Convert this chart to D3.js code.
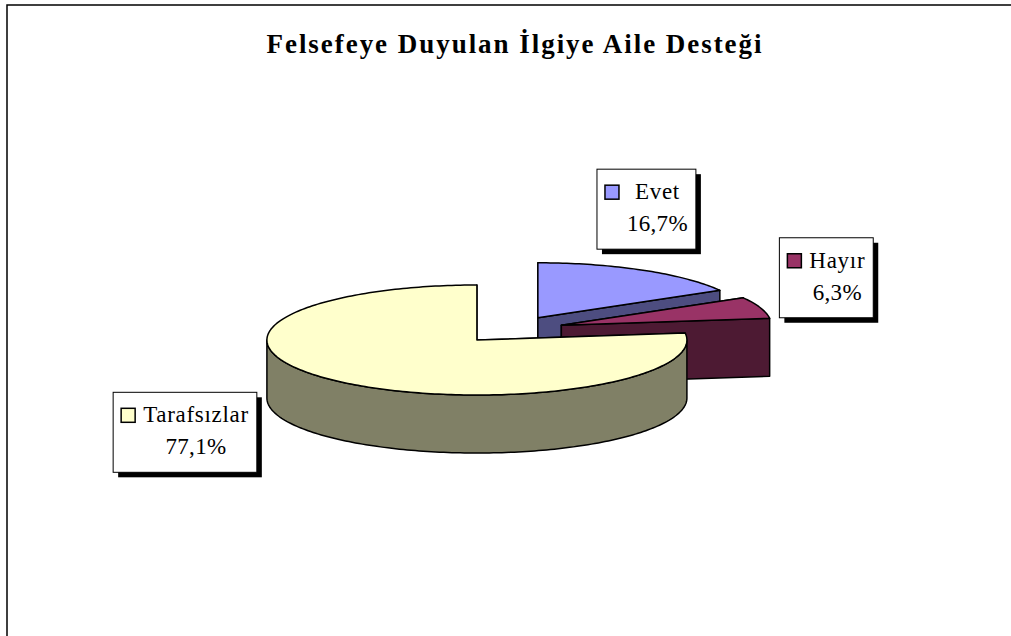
<!DOCTYPE html>
<html>
<head>
<meta charset="utf-8">
<script src="https://cdn.jsdelivr.net/npm/d3@7"></script>
<style>
  body { margin: 0; background: #fff; }
  text { font-family: "Liberation Serif", "Times New Roman", serif; }
</style>
</head>
<body>
<div id="chart"></div>
<script>
// Data
var categories = ["Evet", "Hayır", "Tarafsızlar"];
var values = [16.7, 6.3, 77.1];
var valueLabels = ["16,7%", "6,3%", "77,1%"];
var topColors = ["#9999FF", "#993366", "#FFFFCC"];
var sideColors = ["#4D4D80", "#4D1A33", "#808066"];

var title = "Felsefeye Duyulan İlgiye Aile Desteği";

// SVG container
var svgWidth = 1011;
var svgHeight = 636;

var svg = d3.select("#chart").append("svg")
  .attr("width", svgWidth)
  .attr("height", svgHeight);

// frame (only top and left edges are visible in the window)
svg.append("path")
  .attr("d", "M7,636 L7,5 L1011,5")
  .attr("fill", "none")
  .attr("stroke", "#000")
  .attr("stroke-width", 1.5);

// title
svg.append("text")
  .attr("x", 514)
  .attr("y", 53)
  .attr("text-anchor", "middle")
  .attr("font-size", 27)
  .attr("font-weight", "bold")
  .attr("textLength", 495)
  .attr("lengthAdjust", "spacing")
  .text(title);

// pie geometry (ellipse projection of a tilted disc)
var cx = 511.6, cy = 329.7;
var rx = 210, ry = 55;
var depth = 58;
var explode = 0.25;

var pie = d3.pie().sort(null).value(d => d.value);
var slices = pie(categories.map((c, i) => ({name: c, value: values[i], i: i})));

// d3.pie angles run clockwise from 12 o'clock
function proj(ox, oy, a, k, dy) {
  return [ox + k * rx * Math.sin(a), oy - k * ry * Math.cos(a) + (dy || 0)];
}
function arcPoints(ox, oy, a0, a1, dy) {
  var n = Math.max(2, Math.ceil((a1 - a0) / 0.02));
  return d3.range(n + 1).map(j => proj(ox, oy, a0 + (a1 - a0) * j / n, 1, dy));
}
var line = d3.line();

var pieGroup = svg.append("g");

slices.forEach(function(s) {
  var mid = (s.startAngle + s.endAngle) / 2;
  var apex = proj(cx, cy, mid, explode);
  var ax = apex[0], ay = apex[1];
  var i = s.data.i;
  var g = pieGroup.append("g");

  // radial faces
  [s.startAngle, s.endAngle].forEach(function(a) {
    var p = proj(ax, ay, a, 1);
    g.append("path")
      .attr("d", line([[ax, ay], p, [p[0], p[1] + depth], [ax, ay + depth]]) + "Z")
      .attr("fill", sideColors[i])
      .attr("stroke", "#000")
      .attr("stroke-width", 1.5)
      .attr("stroke-linejoin", "round");
  });

  // outer wall, front part only
  var w0 = Math.max(s.startAngle, Math.PI / 2);
  var w1 = Math.min(s.endAngle, Math.PI * 1.5);
  if (w1 > w0) {
    var topArc = arcPoints(ax, ay, w0, w1, 0);
    var botArc = arcPoints(ax, ay, w0, w1, depth).reverse();
    g.append("path")
      .attr("d", line(topArc.concat(botArc)) + "Z")
      .attr("fill", sideColors[i])
      .attr("stroke", "#000")
      .attr("stroke-width", 1.5)
      .attr("stroke-linejoin", "round");
  }

  // top face
  var pts = [[ax, ay]].concat(arcPoints(ax, ay, s.startAngle, s.endAngle, 0));
  g.append("path")
    .attr("d", line(pts) + "Z")
    .attr("fill", topColors[i])
    .attr("stroke", "#000")
    .attr("stroke-width", 1.5)
    .attr("stroke-linejoin", "round");

  s.anchor = proj(ax, ay, mid, 1);
});

// data label boxes, offset from the outer midpoint of each slice
var labelOffsets = {"Evet": [-46, -101], "Hayır": [19, -70], "Tarafsızlar": [-225, 11]};

slices.forEach(function(s) {
  var i = s.data.i;
  var off = labelOffsets[s.data.name];
  var bx = s.anchor[0] + off[0];
  var by = s.anchor[1] + off[1];
  var lg = svg.append("g").attr("transform", `translate(${bx}, ${by})`);

  var shadow = lg.append("rect").attr("x", 5).attr("y", 5).attr("fill", "#000");
  var box = lg.append("rect").attr("x", 0).attr("y", 0)
    .attr("fill", "#fff").attr("stroke", "#000").attr("stroke-width", 1);

  lg.append("rect")
    .attr("x", 8).attr("y", 16)
    .attr("width", 14).attr("height", 14)
    .attr("fill", topColors[i])
    .attr("stroke", "#000")
    .attr("stroke-width", 1.5);

  var nameText = lg.append("text")
    .attr("y", 30)
    .attr("text-anchor", "middle")
    .attr("font-size", 23)
    .attr("letter-spacing", 0.7)
    .text(s.data.name);
  var nw = nameText.node().getComputedTextLength();

  var valText = lg.append("text")
    .attr("y", 62)
    .attr("text-anchor", "middle")
    .attr("font-size", 23)
    .attr("letter-spacing", 0.3)
    .text(valueLabels[i]);
  var vw = valText.node().getComputedTextLength();

  // text is centred in the area right of the key
  var tw = Math.max(nw, vw) + 16;
  var bw = 22 + tw;
  var bh = 80;
  nameText.attr("x", 22 + tw / 2);
  valText.attr("x", 22 + tw / 2);
  box.attr("width", bw).attr("height", bh);
  shadow.attr("width", bw).attr("height", bh);
});
</script>
</body>
</html>
